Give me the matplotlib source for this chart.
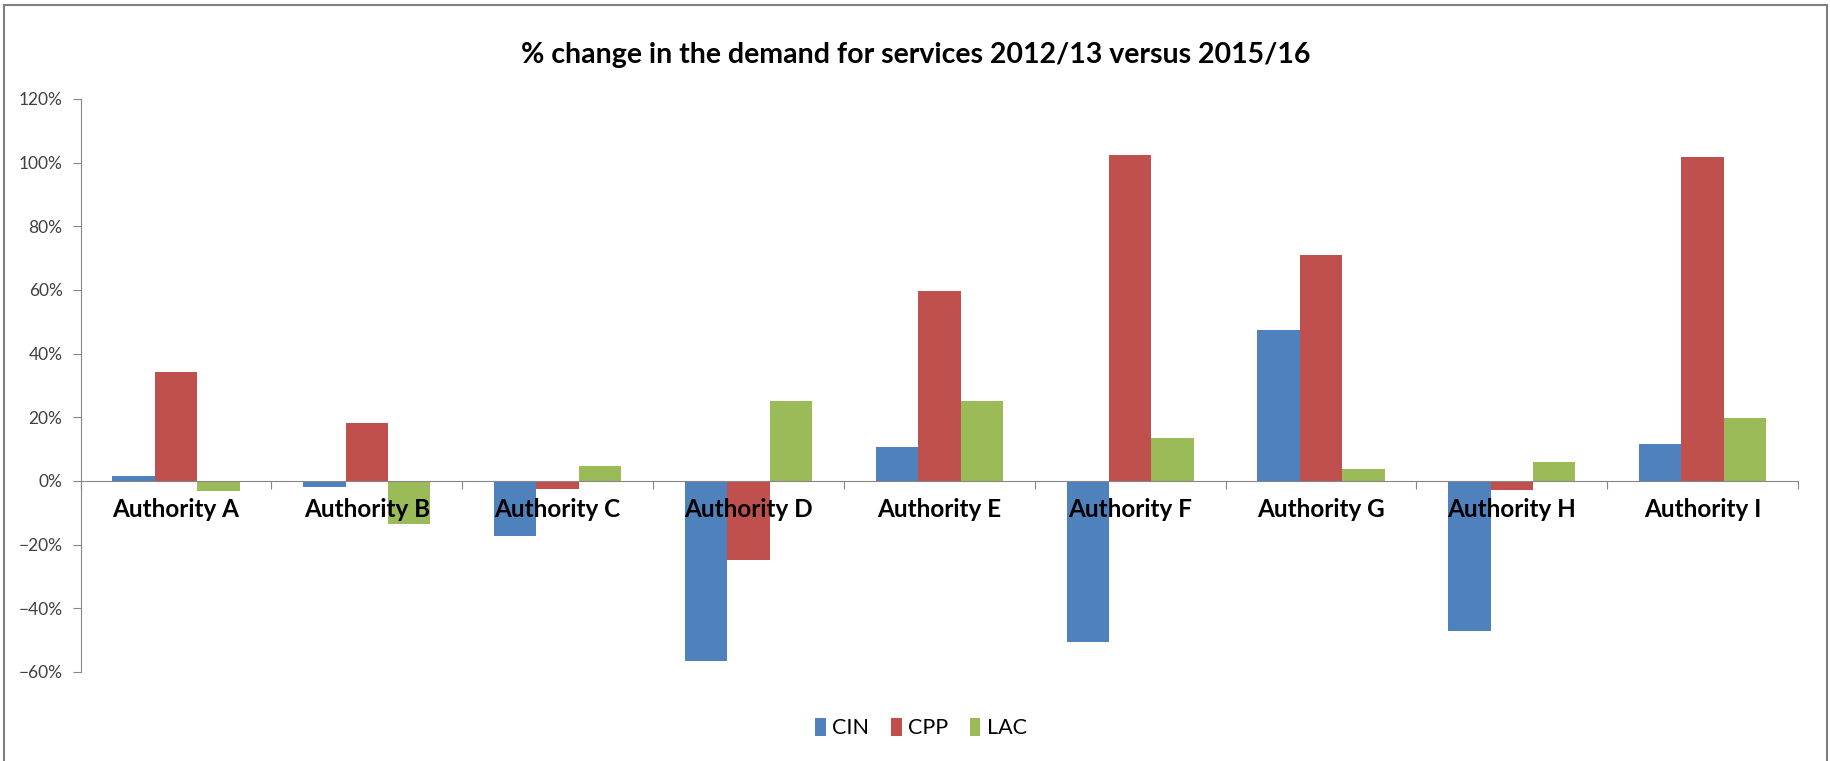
import numpy as np
import matplotlib
matplotlib.use('Agg')
import matplotlib.pyplot as plt
from matplotlib.patches import Rectangle
from matplotlib.ticker import FixedLocator, PercentFormatter

# donnees (en %)
autorites = ['Authority A', 'Authority B', 'Authority C', 'Authority D', 'Authority E',
             'Authority F', 'Authority G', 'Authority H', 'Authority I']
cin = [1.6, -1.8, -17.3, -56.5, 10.6, -50.5, 47.4, -47.0, 11.7]
cpp = [34.2, 18.2, -2.4, -24.9, 59.6, 102.4, 71.0, -2.7, 101.8]
lac = [-3.2, -13.4, 4.6, 25.2, 25.2, 13.6, 3.6, 6.1, 19.8]
series = ['CIN', 'CPP', 'LAC']
couleurs = ['#4F81BD', '#C0504D', '#9BBB59']

plt.rcParams['font.family'] = ['Lato', 'DejaVu Sans']

fig = plt.figure(figsize=(18.31, 7.61), dpi=100)
ax = fig.add_axes([0.044, 0.117, 0.938, 0.753])

x = np.arange(len(autorites))
largeur = 1 / 4.5
for i, (nom, vals) in enumerate(zip(series, [cin, cpp, lac])):
    ax.bar(x + (i - 1) * largeur, vals, width=largeur, color=couleurs[i], label=nom, zorder=2)

ax.set_xlim(-0.5, len(autorites) - 0.5)
ax.set_ylim(-60, 120)
ax.set_yticks(np.arange(-60, 121, 20))
ax.yaxis.set_major_formatter(PercentFormatter(decimals=0))
# les etiquettes passent devant les barres
ax.set_axisbelow(False)

# axe des x a zero, graduations entre les categories
ax.spines['bottom'].set_position(('data', 0))
ax.spines['bottom'].set_color('#868686')
ax.spines['left'].set_color('#868686')
ax.spines['top'].set_visible(False)
ax.spines['right'].set_visible(False)
ax.xaxis.set_major_locator(FixedLocator(np.arange(-0.5, len(autorites), 1)))
ax.xaxis.set_major_formatter(plt.NullFormatter())
ax.xaxis.set_minor_locator(FixedLocator(x))
ax.set_xticklabels(autorites, minor=True)
ax.tick_params(axis='x', which='major', length=6, color='#868686', direction='out')
ax.tick_params(axis='x', which='minor', length=0, pad=12, labelsize=17.5, labelcolor='black')
for lab in ax.get_xticklabels(minor=True):
    lab.set_fontweight('bold')
ax.tick_params(axis='y', length=6, color='#868686', labelsize=12.5, labelcolor='#404040', pad=7)

fig.suptitle('% change in the demand for services 2012/13 versus 2015/16',
             fontsize=20.5, fontweight='bold', y=0.945)

fig.legend(loc='center', bbox_to_anchor=(0.503, 0.043), ncol=3, frameon=False,
           fontsize=15.5, handlelength=0.5, handleheight=0.9, handletextpad=0.3, columnspacing=1.0)

# cadre gris autour du graphique
fig.patches.append(Rectangle((0.002, -0.05), 0.996, 1.043, transform=fig.transFigure,
                             fill=False, edgecolor='#7f7f7f', linewidth=1.5))

plt.savefig('out.png', dpi=100)
